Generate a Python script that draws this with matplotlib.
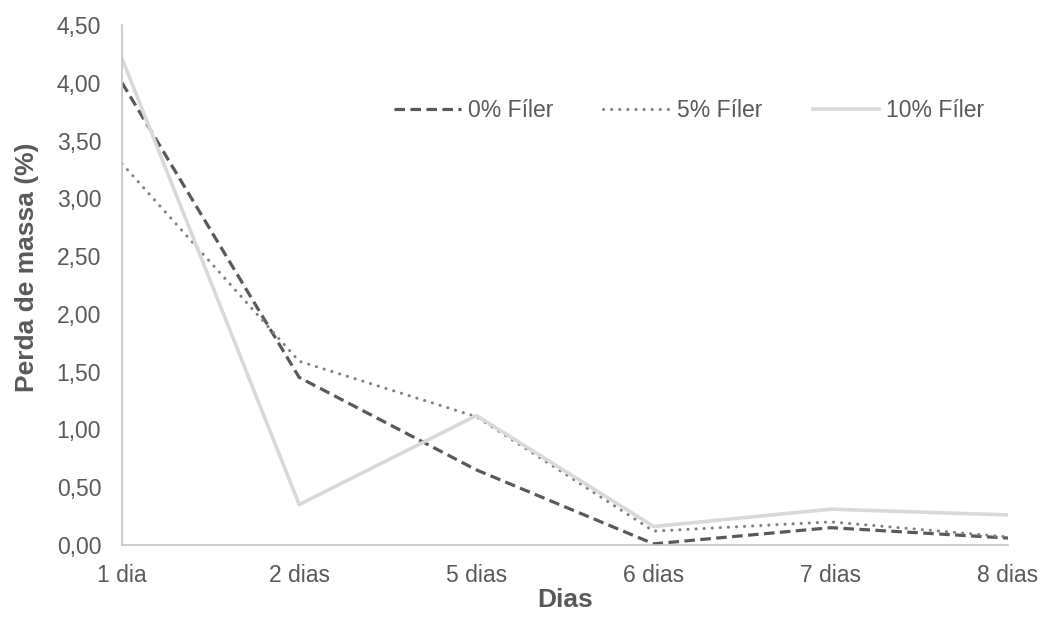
import numpy as np
import matplotlib.pyplot as plt

plt.rcParams['font.family'] = ['Liberation Sans', 'DejaVu Sans']

# dados de perda de massa (%)
dias = ['1 dia', '2 dias', '5 dias', '6 dias', '7 dias', '8 dias']
filer_0 = [4.00, 1.45, 0.65, 0.01, 0.15, 0.06]
filer_5 = [3.30, 1.59, 1.11, 0.12, 0.20, 0.07]
filer_10 = [4.21, 0.35, 1.12, 0.16, 0.31, 0.26]

cor_texto = '#595959'
cor_eixo = '#c4c4c4'

fig = plt.figure(figsize=(10.41, 6.17), dpi=100)
ax = fig.add_axes([0.1172, 0.1167, 0.8511, 0.8428])

x = np.arange(len(dias))
ax.plot(x, filer_0, color='#595959', lw=2.3, linestyle=(0, (3.3, 1.7)),
        label='0% Fíler')
ax.plot(x, filer_5, color='#808080', lw=2.2, linestyle=(0, (0.05, 2.6)),
        dash_capstyle='round', label='5% Fíler')
ax.plot(x, filer_10, color='#d9d9d9', lw=2.6, label='10% Fíler')

ax.set_xlim(x[0], x[-1])
ax.set_ylim(0, 4.5)
ax.set_xticks(x)
ax.set_xticklabels(dias)
yt = np.arange(0, 4.51, 0.5)
ax.set_yticks(yt)
ax.set_yticklabels([f'{v:.2f}'.replace('.', ',') for v in yt])
ax.tick_params(length=0, labelsize=16.5, colors=cor_texto)
ax.tick_params(axis='y', pad=15)
ax.tick_params(axis='x', pad=14)

for s in ['top', 'right']:
    ax.spines[s].set_visible(False)
for s in ['left', 'bottom']:
    ax.spines[s].set_color(cor_eixo)
    ax.spines[s].set_linewidth(1.2)

ax.set_xlabel('Dias', fontsize=19, fontweight='bold', color=cor_texto)
ax.xaxis.set_label_coords(0.5, -0.082)
ax.set_ylabel('Perda de massa (%)', fontsize=19, fontweight='bold',
              color=cor_texto)
ax.yaxis.set_label_coords(-0.0935, 0.535)

leg = ax.legend(ncol=3, frameon=False, fontsize=16.5, loc='center right',
                bbox_to_anchor=(0.973, 0.836), borderaxespad=0, borderpad=0,
                handlelength=2.9, handletextpad=0.3, columnspacing=2.2)
for t in leg.get_texts():
    t.set_color(cor_texto)

fig.savefig('out.png', dpi=100)
